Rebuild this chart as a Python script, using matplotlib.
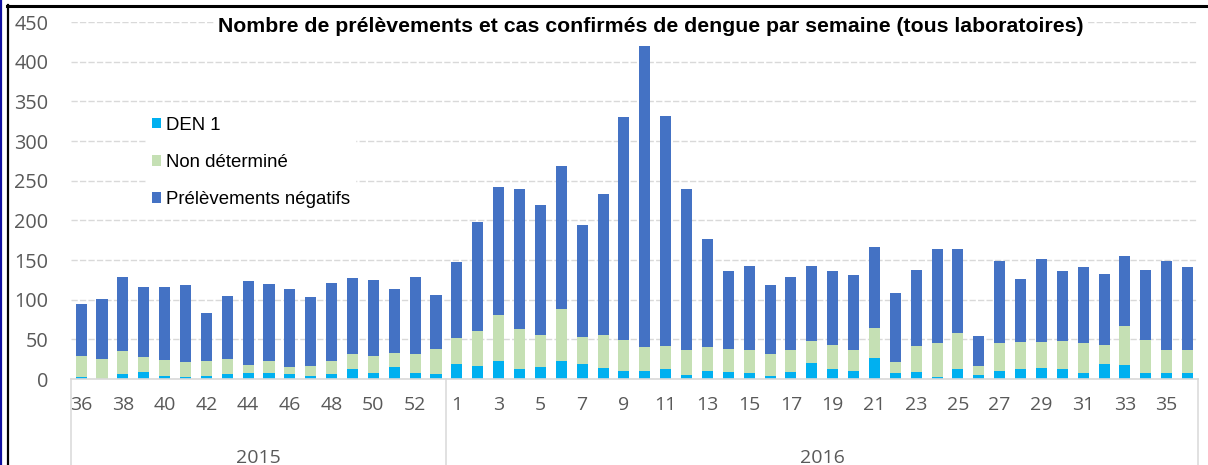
import matplotlib
matplotlib.use("Agg")
import matplotlib.pyplot as plt
from matplotlib.lines import Line2D
from matplotlib.transforms import blended_transform_factory
import numpy as np

# ---- data -------------------------------------------------------------
weeks_2015 = list(range(36, 54))          # 36..53
weeks_2016 = list(range(1, 37))           # 1..36
years = ["2015", "2016"]

den1 = [2, 0, 6, 9, 4, 3, 4, 6, 7, 7, 6, 4, 6, 13, 7, 15, 7, 6,
        19, 16, 23, 13, 15, 23, 19, 14, 10, 10, 12, 5, 10, 9, 7, 4, 9, 20,
        13, 10, 26, 7, 9, 2, 13, 5, 10, 13, 14, 13, 8, 19, 18, 7, 7, 8]
non_determine = [27, 25, 29, 19, 20, 19, 19, 19, 11, 16, 9, 13, 17, 18, 22, 18, 25, 32,
                 33, 45, 58, 50, 40, 65, 34, 41, 39, 30, 30, 32, 30, 29, 29, 28, 27, 28,
                 30, 27, 38, 14, 33, 44, 45, 11, 36, 34, 33, 35, 38, 24, 49, 42, 29, 28]
negatifs = [65, 76, 94, 88, 92, 96, 60, 80, 106, 97, 98, 86, 98, 96, 96, 81, 97, 68,
            95, 137, 161, 176, 164, 180, 141, 178, 281, 380, 290, 202, 136, 98, 106, 87, 92, 94,
            93, 94, 102, 87, 96, 118, 106, 38, 103, 79, 104, 88, 95, 89, 88, 88, 113, 105]

labels = ["DEN 1", "Non déterminé", "Prélèvements négatifs"]
colors = ["#00B0F0", "#C5E0B4", "#4472C4"]
title = "Nombre de prélèvements et cas confirmés de dengue par semaine (tous laboratoires)"

# ---- figure -----------------------------------------------------------
W, H = 1208, 465
fig = plt.figure(figsize=(W / 100, H / 100), dpi=100)
ax = fig.add_axes([70.7 / W, (H - 379) / H, (1198 - 70.7) / W, (379 - 22) / H])

weeks = weeks_2015 + weeks_2016
x = np.arange(len(weeks))
d = np.array(den1)
n = np.array(non_determine)
g = np.array(negatifs)
bw = 0.53
ax.bar(x, d, bw, color=colors[0], label=labels[0], zorder=3)
ax.bar(x, n, bw, bottom=d, color=colors[1], label=labels[1], zorder=3)
ax.bar(x, g, bw, bottom=d + n, color=colors[2], label=labels[2], zorder=3)

ax.set_xlim(-0.5, len(weeks) - 0.5)
ax.set_ylim(0, 450)
ax.set_yticks(range(0, 451, 50))
ax.yaxis.grid(True, color="#D9D9D9", linestyle=(0, (4.5, 1.6)), linewidth=1.0, zorder=0)
for s in ax.spines.values():
    s.set_visible(False)
ax.axhline(0, color="#D9D9D9", lw=1.2, zorder=4, clip_on=False)

FAM = ["Open Sans", "DejaVu Sans"]
ax.tick_params(axis="y", length=0, pad=16, labelcolor="#595959", labelsize=14.3)
for lab in ax.get_yticklabels():
    lab.set_fontfamily(FAM)

tick_pos = [i for i in range(len(weeks)) if (weeks[i] % 2 == 0 and i < len(weeks_2015) and weeks[i] != 53) or
            (i >= len(weeks_2015) and weeks[i] % 2 == 1 and weeks[i] != 36)]
ax.set_xticks(tick_pos)
ax.set_xticklabels([str(weeks[i]) for i in tick_pos], color="#595959", fontsize=14,
                   fontfamily=FAM)
ax.tick_params(axis="x", length=0, pad=12)

# year group labels and separators
tr = blended_transform_factory(ax.transData, fig.transFigure)
n15 = len(weeks_2015)
groups = [(0, n15 - 1), (n15, len(weeks) - 1)]
for (a, b), yr in zip(groups, years):
    ax.text((a + b) / 2, 7 / H, yr, transform=tr, ha="center", va="center",
            color="#595959", fontsize=14, fontfamily=FAM)
for xs in [-0.5, n15 - 0.5, len(weeks) - 0.5]:
    fig.add_artist(Line2D([xs, xs], [0, (H - 379) / H], transform=tr, color="#D9D9D9", lw=1.1))

# title
fig.text(651 / W, 1 - 27 / H, title, ha="center", va="center", fontsize=15.3, fontweight="bold",
         fontfamily=["Liberation Sans", "DejaVu Sans"],
         bbox=dict(facecolor="white", edgecolor="none", pad=3))

# legend
leg = ax.legend(loc="upper left", bbox_to_anchor=(146 / W, 1 - 111 / H), bbox_transform=fig.transFigure,
                frameon=True, facecolor="white", edgecolor="white", framealpha=1,
                prop=dict(family=["Liberation Sans", "DejaVu Sans"], size=13.4),
                handlelength=0.5, handleheight=0.5, handletextpad=0.25, labelspacing=1.09,
                borderpad=0.3, borderaxespad=0, fancybox=False)
leg.set_zorder(5)

# outer frame
fig.add_artist(Line2D([0.8 / W, 0.8 / W], [0, 1], transform=fig.transFigure, color="#1010A0", lw=1.6))
fig.add_artist(Line2D([7.7 / W, 7.7 / W], [0, 1 - 5 / H], transform=fig.transFigure, color="black", lw=1.6))
fig.add_artist(Line2D([7 / W, 1], [1 - 6 / H, 1 - 6 / H], transform=fig.transFigure, color="black", lw=2.2))

fig.savefig("out.png", dpi=100)
